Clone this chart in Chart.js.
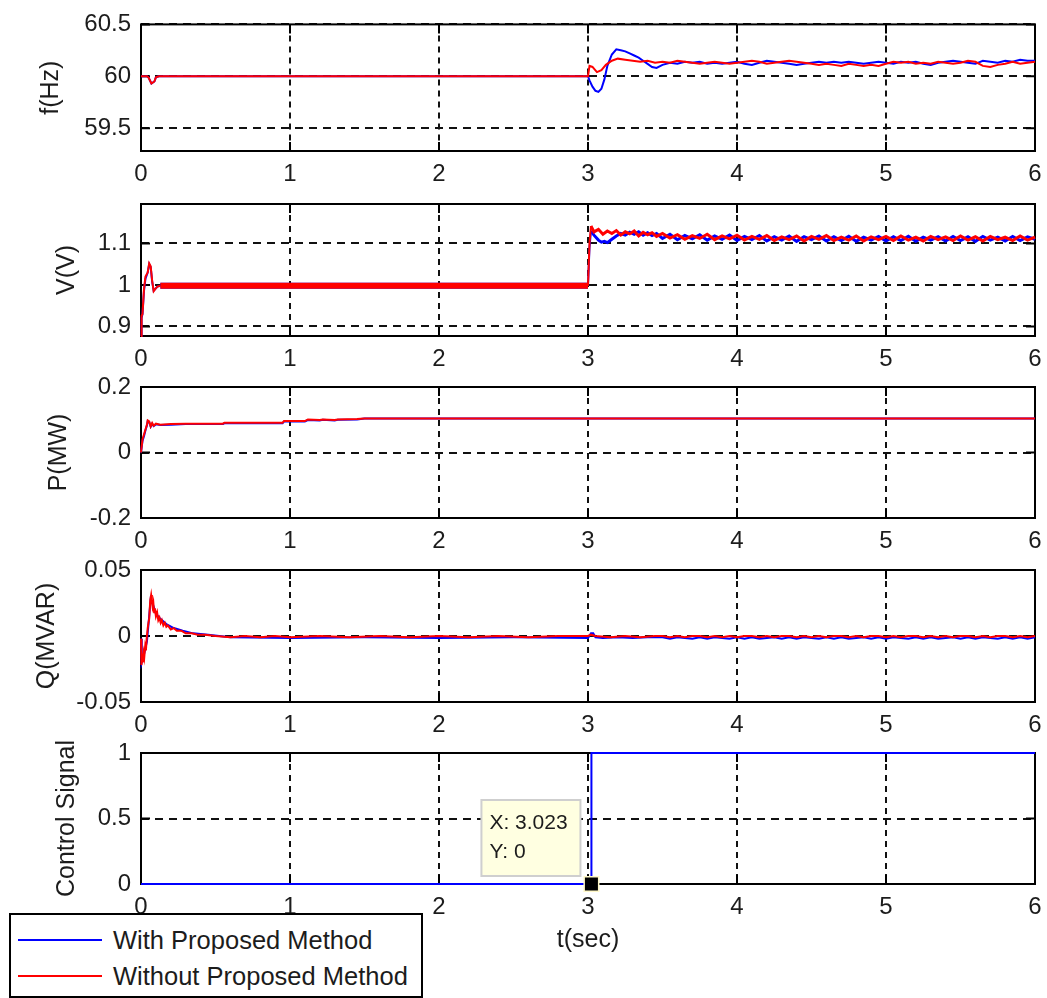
<!DOCTYPE html>
<html>
<head>
<meta charset="utf-8">
<title>Control signal response</title>
<script src="https://cdn.jsdelivr.net/npm/chart.js@4.4.1/dist/chart.umd.min.js"></script>
<style>
  html, body { margin: 0; padding: 0; background: #fff; }
  #page { position: relative; width: 1047px; height: 998px; overflow: hidden; background: #fff;
          font-family: 'Liberation Sans', Arial, sans-serif; }
  #page canvas { position: absolute; left: 0; top: 0; }
  #legend { position: absolute; left: 9px; top: 913px; width: 410px; height: 81px;
            border: 2px solid #000; background: #fff; z-index: 5; }
  #legend .row { position: absolute; left: 0; height: 30px; display: flex; align-items: center;
                 font-size: 25.5px; color: #1c1c1c; white-space: nowrap; }
  #legend .swatch { width: 84px; height: 2px; margin-left: 7px; margin-right: 11px; }
</style>
</head>
<body>
<div id="page">
  <div id="legend">
    <div class="row" style="top:10px"><span class="swatch" style="background:#0000ff"></span>With Proposed Method</div>
    <div class="row" style="top:46px"><span class="swatch" style="background:#ff0000"></span>Without Proposed Method</div>
  </div>
</div>
<script>
// time axis
const tTicks = [0, 1, 2, 3, 4, 5, 6];
// common sample grid for the settled part after the switch
const tTail = [3.5, 3.55, 3.6, 3.65, 3.7, 3.75, 3.8, 3.85, 3.9, 3.95,
               4, 4.05, 4.1, 4.15, 4.2, 4.25, 4.3, 4.35, 4.4, 4.45,
               4.5, 4.55, 4.6, 4.65, 4.7, 4.75, 4.8, 4.85, 4.9, 4.95,
               5, 5.05, 5.1, 5.15, 5.2, 5.25, 5.3, 5.35, 5.4, 5.45,
               5.5, 5.55, 5.6, 5.65, 5.7, 5.75, 5.8, 5.85, 5.9, 5.95, 6];

// frequency f(Hz)
const fTicks = [59.5, 60, 60.5];
const fRedHead = [[0, 60], [0.04, 60], [0.05, 59.99], [0.07, 59.93], [0.09, 59.95], [0.1, 59.99], [0.12, 60],
  [3, 60], [3.01, 60.1], [3.03, 60.09], [3.06, 60.04], [3.09, 60.06], [3.12, 60.11], [3.16, 60.15], [3.2, 60.17],
  [3.25, 60.16], [3.3, 60.15], [3.35, 60.14], [3.4, 60.15], [3.45, 60.13]];
const fRedTail = [60.14, 60.13, 60.15, 60.14, 60.13, 60.12, 60.13, 60.14, 60.13, 60.12,
                  60.13, 60.14, 60.15, 60.14, 60.12, 60.13, 60.14, 60.15, 60.14, 60.13,
                  60.12, 60.11, 60.12, 60.11, 60.10, 60.12, 60.11, 60.10, 60.11, 60.10,
                  60.12, 60.14, 60.13, 60.14, 60.12, 60.13, 60.12, 60.14, 60.13, 60.12,
                  60.13, 60.15, 60.14, 60.10, 60.09, 60.11, 60.12, 60.14, 60.12, 60.13, 60.14];
const fBlueHead = [[0, 60], [0.04, 60], [0.05, 59.99], [0.07, 59.93], [0.09, 59.95], [0.1, 59.99], [0.12, 60],
  [3, 60], [3.01, 59.96], [3.03, 59.9], [3.05, 59.86], [3.07, 59.85], [3.09, 59.88], [3.11, 59.97], [3.13, 60.1],
  [3.16, 60.21], [3.19, 60.26], [3.22, 60.25], [3.25, 60.24], [3.28, 60.22], [3.31, 60.2], [3.34, 60.18],
  [3.37, 60.15], [3.4, 60.12], [3.43, 60.09], [3.46, 60.08]];
const fBlueTail = [60.11, 60.13, 60.12, 60.14, 60.13, 60.14, 60.12, 60.13, 60.12, 60.13,
                   60.14, 60.12, 60.11, 60.13, 60.15, 60.14, 60.13, 60.12, 60.11, 60.12,
                   60.13, 60.14, 60.13, 60.14, 60.13, 60.14, 60.13, 60.12, 60.13, 60.14,
                   60.13, 60.12, 60.14, 60.13, 60.14, 60.12, 60.11, 60.13, 60.14, 60.15,
                   60.14, 60.13, 60.12, 60.15, 60.14, 60.13, 60.15, 60.14, 60.16, 60.15, 60.15];

// voltage V(V)
const vTicks = [0.9, 1, 1.1];
const vRedHead = [[0, 0.877], [0.004, 0.925], [0.01, 0.93], [0.02, 0.99], [0.03, 1.02], [0.045, 1.03],
  [0.055, 1.052], [0.065, 1.045], [0.075, 1.01], [0.085, 0.985], [0.095, 0.99], [0.11, 0.996], [0.13, 0.998],
  [3, 0.998], [3.01, 1.1], [3.02, 1.142], [3.04, 1.128], [3.07, 1.134], [3.1, 1.122], [3.13, 1.13], [3.16, 1.124],
  [3.19, 1.131], [3.22, 1.12], [3.25, 1.128], [3.28, 1.123], [3.31, 1.13], [3.34, 1.118], [3.37, 1.127],
  [3.4, 1.121], [3.43, 1.126], [3.46, 1.117]];
const vRedTail = [1.124, 1.113, 1.121, 1.110, 1.119, 1.112, 1.122, 1.109, 1.118, 1.111,
                  1.120, 1.108, 1.117, 1.110, 1.119, 1.107, 1.116, 1.109, 1.118, 1.106,
                  1.117, 1.110, 1.119, 1.107, 1.115, 1.108, 1.118, 1.106, 1.116, 1.109,
                  1.117, 1.107, 1.118, 1.108, 1.115, 1.106, 1.117, 1.109, 1.116, 1.107,
                  1.118, 1.108, 1.116, 1.106, 1.117, 1.109, 1.115, 1.107, 1.118, 1.108, 1.115];
const vBlueHead = [[0, 0.877], [0.004, 0.92], [0.01, 0.93], [0.02, 0.985], [0.03, 1.015], [0.045, 1.03],
  [0.055, 1.05], [0.065, 1.043], [0.075, 1.008], [0.085, 0.986], [0.095, 0.99], [0.11, 0.996], [0.13, 0.998],
  [3, 0.998], [3.01, 1.09], [3.02, 1.13], [3.04, 1.12], [3.07, 1.108], [3.09, 1.103], [3.11, 1.105],
  [3.13, 1.102], [3.16, 1.11], [3.19, 1.118], [3.22, 1.124], [3.25, 1.12], [3.28, 1.127], [3.31, 1.122],
  [3.34, 1.128], [3.37, 1.12], [3.4, 1.126], [3.43, 1.119], [3.46, 1.124]];
const vBlueTail = [1.112, 1.122, 1.109, 1.119, 1.111, 1.121, 1.108, 1.118, 1.110, 1.120,
                   1.107, 1.117, 1.109, 1.119, 1.106, 1.116, 1.108, 1.118, 1.105, 1.116,
                   1.109, 1.118, 1.106, 1.116, 1.107, 1.117, 1.105, 1.115, 1.108, 1.117,
                   1.106, 1.116, 1.107, 1.117, 1.105, 1.115, 1.108, 1.116, 1.106, 1.117,
                   1.107, 1.116, 1.105, 1.117, 1.108, 1.115, 1.106, 1.117, 1.107, 1.116, 1.110];

// active power P(MW)
const pTicks = [-0.2, 0, 0.2];
const pRed = [[0, 0], [0.005, 0], [0.01, 0.04], [0.02, 0.055], [0.03, 0.07], [0.04, 0.085], [0.045, 0.098],
  [0.055, 0.095], [0.065, 0.08], [0.075, 0.09], [0.085, 0.082], [0.1, 0.088], [0.13, 0.085], [0.2, 0.087],
  [0.3, 0.088], [0.55, 0.088], [0.56, 0.091], [0.95, 0.091], [0.96, 0.096], [1.1, 0.096], [1.12, 0.101],
  [1.2, 0.099], [1.22, 0.101], [1.3, 0.099], [1.32, 0.101], [1.45, 0.102], [1.5, 0.104], [6, 0.104]];
const pBlue = [[0, 0], [0.005, 0], [0.01, 0.035], [0.02, 0.05], [0.03, 0.068], [0.04, 0.083], [0.045, 0.096],
  [0.055, 0.093], [0.065, 0.079], [0.075, 0.088], [0.085, 0.081], [0.1, 0.086], [0.13, 0.084], [0.2, 0.085],
  [0.3, 0.087], [0.55, 0.087], [0.56, 0.089], [0.95, 0.089], [0.96, 0.095], [1.1, 0.095], [1.12, 0.099],
  [1.2, 0.098], [1.22, 0.1], [1.3, 0.098], [1.32, 0.1], [1.45, 0.101], [1.5, 0.104], [6, 0.104]];

// reactive power Q(MVAR)
const qTicks = [-0.05, 0, 0.05];
const qRedHead = [[0, -0.002], [0.003, -0.022], [0.008, -0.017], [0.012, -0.02], [0.018, -0.013], [0.022, -0.016],
  [0.028, -0.008], [0.033, -0.011], [0.038, -0.002], [0.045, 0.006], [0.05, 0.01], [0.055, 0.013], [0.062, 0.027],
  [0.068, 0.031], [0.073, 0.026], [0.078, 0.022], [0.083, 0.025], [0.088, 0.018], [0.093, 0.021], [0.1, 0.015],
  [0.108, 0.018], [0.116, 0.012], [0.124, 0.014], [0.132, 0.01], [0.14, 0.012], [0.15, 0.008], [0.16, 0.01],
  [0.17, 0.007], [0.18, 0.008], [0.2, 0.005], [0.22, 0.006], [0.24, 0.004], [0.27, 0.004], [0.3, 0.002],
  [0.34, 0.002], [0.38, 0.001], [0.43, 0.001], [0.5, 0], [0.6, -0.001], [0.7, 0], [0.8, -0.001], [0.9, 0],
  [1, -0.001], [1.2, 0], [1.4, -0.001], [1.6, 0], [1.8, -0.001], [2, 0], [2.2, -0.001], [2.4, 0], [2.6, -0.001],
  [2.8, 0], [3, 0], [3.02, 0.001], [3.05, 0], [3.15, -0.001], [3.25, 0], [3.35, -0.001], [3.45, 0]];
const qRedTail = [0, -0.001, 0, -0.001, 0, 0, -0.001, 0, -0.001, 0,
                  -0.001, 0, 0, -0.001, 0, -0.001, 0, 0, -0.001, 0,
                  -0.001, 0, -0.001, 0, 0, -0.001, 0, -0.001, 0, 0,
                  -0.001, 0, -0.001, 0, 0, -0.001, 0, -0.001, 0, -0.001,
                  0, 0, -0.001, 0, -0.001, 0, 0, -0.001, 0, -0.001, 0];
const qBlueHead = [[0, -0.002], [0.005, -0.02], [0.02, -0.014], [0.04, -0.004], [0.065, 0.028], [0.08, 0.024],
  [0.1, 0.017], [0.13, 0.013], [0.17, 0.009], [0.22, 0.006], [0.28, 0.004], [0.35, 0.002], [0.45, 0.001],
  [0.6, -0.001], [1, -0.0015], [1.5, -0.001], [2, -0.0015], [2.5, -0.001], [3, -0.0015], [3.02, 0.002],
  [3.035, 0.002], [3.05, -0.001], [3.1, -0.0015], [3.2, -0.001], [3.3, -0.0015], [3.4, -0.001]];
const qBlueTail = [-0.001, -0.002, -0.001, -0.0015, -0.002, -0.001, -0.002, -0.001, -0.0015, -0.002,
                   -0.001, -0.002, -0.001, -0.002, -0.0015, -0.001, -0.002, -0.001, -0.002, -0.001,
                   -0.0015, -0.002, -0.001, -0.002, -0.001, -0.002, -0.0015, -0.001, -0.002, -0.001,
                   -0.002, -0.001, -0.0015, -0.002, -0.001, -0.002, -0.001, -0.002, -0.0015, -0.001,
                   -0.002, -0.001, -0.002, -0.001, -0.0015, -0.002, -0.001, -0.002, -0.001, -0.002, -0.001];

// control signal, switched on at the marked point
const cTicks = [0, 0.5, 1];
const ctrlBlue = [[0, 0], [3.023, 0], [3.023, 1], [6, 1]];
const tipPoint = [3.023, 0];

const FONT = "'Liberation Sans', Arial, sans-serif";
const INK = '#1c1c1c';
const PAGE_W = 1047;
const PAGE_H = 998;
const RED = '#ff0000';
const BLUE = '#0000ff';

function series(head, times, tail) {
    const pts = head.map(([x, y]) => ({ x, y }));
    if (times) times.forEach((t, i) => pts.push({ x: t, y: tail[i] }));
    return pts;
}

function line(data, color, order, extra) {
    return Object.assign({
        data: data,
        borderColor: color,
        backgroundColor: color,
        borderWidth: 2,
        pointRadius: 0,
        fill: false,
        tension: 0,
        clip: 3,   // traces sitting on the axes box must stay visible
        order: order
    }, extra || {});
}

// thick band on the flat 1 pu stretch, heavier trace for the noisy part after the switch
const voltageSegments = {
    borderWidth: ctx => {
        if (ctx.p0.parsed.x >= 0.13 && ctx.p1.parsed.x <= 3) return 6;
        if (ctx.p0.parsed.x >= 3.02) return 3;
        return undefined;
    }
};

// solid box with inward tick marks, drawn over the dashed grid
const framePlugin = {
    id: 'frame',
    beforeDatasetsDraw(chart) {
        const { ctx, chartArea: a, scales: { x, y } } = chart;
        ctx.save();
        ctx.setLineDash([]);
        ctx.strokeStyle = '#000';
        ctx.lineWidth = 2;
        ctx.strokeRect(a.left, a.top, a.right - a.left, a.bottom - a.top);
        ctx.beginPath();
        x.ticks.forEach(t => {
            const px = x.getPixelForValue(t.value);
            ctx.moveTo(px, a.bottom); ctx.lineTo(px, a.bottom - 9);
            ctx.moveTo(px, a.top); ctx.lineTo(px, a.top + 9);
        });
        y.ticks.forEach(t => {
            const py = y.getPixelForValue(t.value);
            ctx.moveTo(a.left, py); ctx.lineTo(a.left + 9, py);
            ctx.moveTo(a.right, py); ctx.lineTo(a.right - 9, py);
        });
        ctx.stroke();
        ctx.restore();
    }
};

// data cursor box with the square marker
const tipPlugin = {
    id: 'dataTip',
    afterDatasetsDraw(chart) {
        const { ctx, scales: { x, y } } = chart;
        const px = x.getPixelForValue(tipPoint[0]);
        const py = y.getPixelForValue(tipPoint[1]);
        ctx.save();
        ctx.setLineDash([]);
        ctx.fillStyle = '#ffffe1';
        ctx.strokeStyle = '#cfcfcf';
        ctx.lineWidth = 2;
        ctx.fillRect(px - 110, py - 84, 99, 76);
        ctx.strokeRect(px - 110, py - 84, 99, 76);
        ctx.fillStyle = INK;
        ctx.font = '21px ' + FONT;
        ctx.textBaseline = 'alphabetic';
        ctx.fillText('X: ' + tipPoint[0], px - 102, py - 55);
        ctx.fillText('Y: ' + tipPoint[1], px - 102, py - 26);
        ctx.fillStyle = '#fff8c8';
        ctx.fillRect(px - 8, py - 8, 16, 16);
        ctx.fillStyle = '#000';
        ctx.fillRect(px - 6.5, py - 6.5, 13, 13);
        ctx.restore();
    }
};

const panels = [
    { label: 'f(Hz)', range: [59.28, 60.5], ticks: fTicks, top: 21, bottom: 151, titleX: 51,
      datasets: [line(series(fRedHead, tTail, fRedTail), RED, 0), line(series(fBlueHead, tTail, fBlueTail), BLUE, 1)] },
    { label: 'V(V)', range: [0.877, 1.195], ticks: vTicks, top: 204, bottom: 336, titleX: 67,
      datasets: [line(series(vRedHead, tTail, vRedTail), RED, 0, { segment: voltageSegments }),
                 line(series(vBlueHead, tTail, vBlueTail), BLUE, 1, { segment: voltageSegments })] },
    { label: 'P(MW)', range: [-0.2, 0.2], ticks: pTicks, top: 387, bottom: 518, titleX: 59,
      datasets: [line(series(pRed), RED, 0), line(series(pBlue), BLUE, 1)] },
    { label: 'Q(MVAR)', range: [-0.05, 0.05], ticks: qTicks, top: 570, bottom: 702, titleX: 47,
      datasets: [line(series(qRedHead, tTail, qRedTail), RED, 0), line(series(qBlueHead, tTail, qBlueTail), BLUE, 1)] },
    { label: 'Control Signal', range: [0, 1], ticks: cTicks, top: 753, bottom: 884, titleX: 67, xTitle: 't(sec)', tip: true,
      datasets: [line(series(ctrlBlue), BLUE, 1)] }
];

const page = document.getElementById('page');

panels.forEach(p => {
    const canvas = document.createElement('canvas');
    canvas.width = PAGE_W;
    canvas.height = PAGE_H;
    page.insertBefore(canvas, document.getElementById('legend'));
    const xAxisH = p.xTitle ? 71 : 40;

    new Chart(canvas, {
        type: 'line',
        data: { datasets: p.datasets },
        options: {
            responsive: false,
            animation: false,
            devicePixelRatio: 1,
            events: [],
            layout: { padding: { left: 0, right: PAGE_W - 1035, top: p.top, bottom: PAGE_H - p.bottom - xAxisH } },
            plugins: { legend: { display: false }, tooltip: { enabled: false } },
            scales: {
                x: {
                    type: 'linear',
                    min: 0,
                    max: 6,
                    afterBuildTicks: s => { s.ticks = tTicks.map(v => ({ value: v })); },
                    afterFit: s => { s.height = xAxisH; },
                    // invisible outer tick marks push the labels down without widening the right margin
                    grid: { color: '#111', lineWidth: 2, drawTicks: true, tickLength: 7, tickColor: 'rgba(0,0,0,0)' },
                    border: { display: false, dash: [6, 5] },
                    ticks: { padding: 2, autoSkip: false, maxRotation: 0, color: INK,
                             font: { family: FONT, size: 24 }, callback: v => String(v) },
                    title: { display: !!p.xTitle, text: p.xTitle || '', color: INK,
                             font: { family: FONT, size: 25 }, padding: { top: 0, bottom: 0 } }
                },
                y: {
                    min: p.range[0],
                    max: p.range[1],
                    afterBuildTicks: s => { s.ticks = p.ticks.map(v => ({ value: v })); },
                    afterFit: s => { s.width = 141; },
                    grid: { color: '#111', lineWidth: 2, drawTicks: false },
                    border: { display: false, dash: [8, 6] },
                    ticks: { padding: 10, color: INK, font: { family: FONT, size: 24 }, callback: v => String(v) },
                    title: { display: true, text: p.label, color: INK,
                             font: { family: FONT, size: 25 }, padding: { top: p.titleX - 15, bottom: 0 } }
                }
            }
        },
        plugins: p.tip ? [framePlugin, tipPlugin] : [framePlugin]
    });
});
</script>
</body>
</html>
